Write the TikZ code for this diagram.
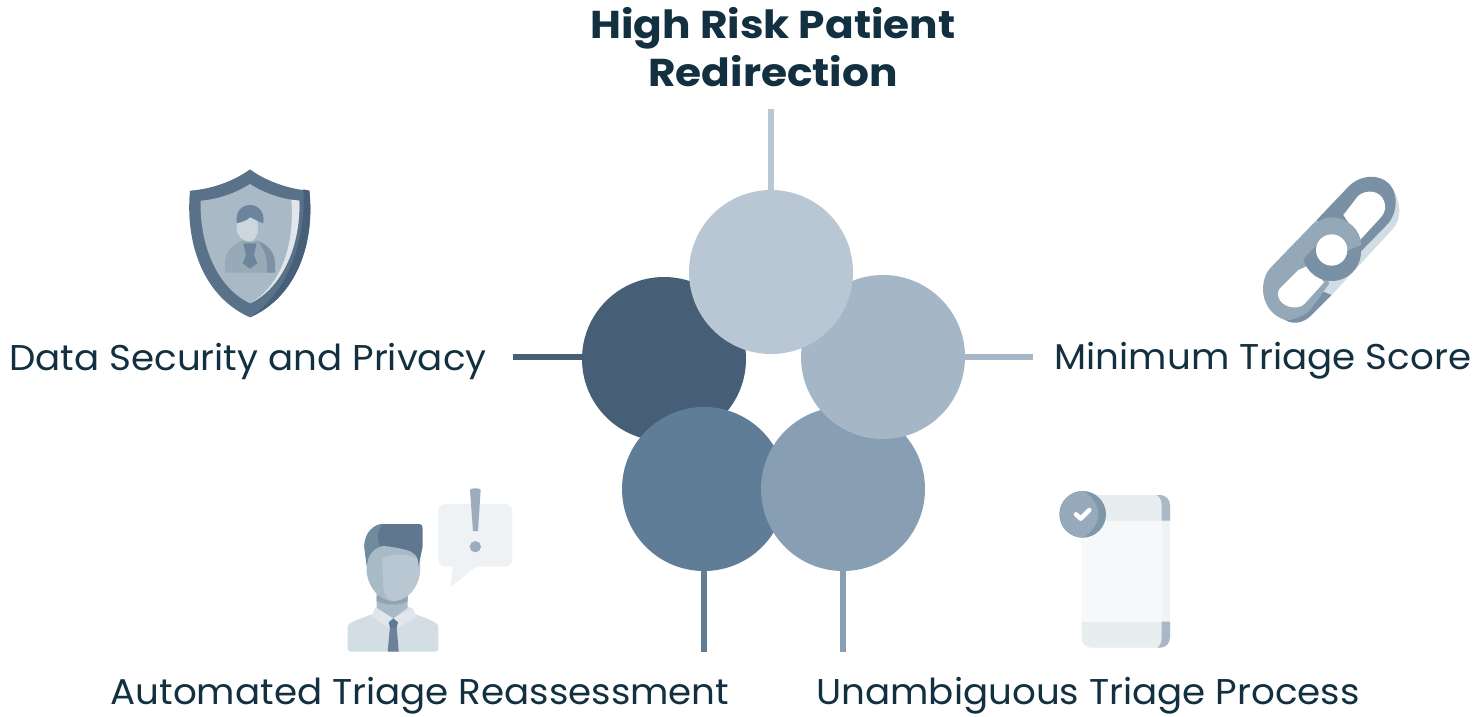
\documentclass[tikz,border=0pt]{standalone}
\usepackage{fontspec}
\setmainfont{Poppins}
\newfontfamily\labelfont[FakeStretch=1.04]{Poppins}
\newfontfamily\titlefont[FakeStretch=1.09]{Poppins}
\definecolor{ink}{HTML}{12303F}
\definecolor{cTop}{HTML}{B8C7D3}
\definecolor{cRight}{HTML}{A5B6C6}
\definecolor{cLowR}{HTML}{879EB3}
\definecolor{cLowL}{HTML}{5F7D97}
\definecolor{cLeft}{HTML}{465F76}
\definecolor{lkLight}{HTML}{D1DDE4}
\definecolor{lkDark}{HTML}{7A90A5}
\definecolor{lkMid}{HTML}{94A8B8}
\tikzset{
  petal/.style={circle,minimum size=164pt,inner sep=0pt,outer sep=0pt,fill=#1},
  spoke/.style={line width=6pt,draw=#1},
  label/.style={text=ink,font=\labelfont\fontsize{35.8}{40}\selectfont,inner sep=0pt},
  headline/.style={text=ink,font=\titlefont\fontsize{38.8}{48}\selectfont\bfseries,inner sep=0pt,align=center},
  icon/.style={shift={#1},scale=1/3,line cap=round,line join=round},
}
\begin{document}
\begin{tikzpicture}[x=1pt,y=-1pt]
\useasboundingbox (0,0) rectangle (1483,716);
\coordinate (tTop) at (771,109);
\coordinate (tRight) at (1033,357);
\coordinate (tLowR) at (843,652);
\coordinate (tLowL) at (704,652);
\coordinate (tLeft) at (513,357);
% petals, lowest first
\node[petal=cLeft] (pLeft) at (664,359) {};
\node[petal=cLowL] (pLowL) at (704,489) {};
\node[petal=cLowR] (pLowR) at (843,489) {};
\node[petal=cRight] (pRight) at (883,357) {};
\node[petal=cTop] (pTop) at (771,272) {};
\draw[spoke=cTop] (pTop.north) -- (tTop);
\draw[spoke=cRight] (pRight.east) -- (tRight);
\draw[spoke=cLowR] (pLowR.south) -- (tLowR);
\draw[spoke=cLowL] (pLowL.south) -- (tLowL);
\draw[spoke=cLeft] (pLeft.west |- tLeft) -- (tLeft);
% texts
\node[headline] (title) at (773,47) {High Risk Patient\\Redirection};
\node[label] (lSec) at (248,361) {Data Security and Privacy};
\node[label] (lMin) at (1263,361) {Minimum Triage Score};
\node[label] (lAut) at (420,696) {Automated Triage Reassessment};
\node[label] (lUna) at (1088,696) {Unambiguous Triage Process};
% shield
\begin{scope}[icon={(170,160)}]
\fill[color={rgb,255:red,90;green,114;blue,137}] (240,28) .. controls (190,65) and (120,88) .. (60,92) .. controls (45,250) and (100,410) .. (240,472) .. controls (380,410) and (435,250) .. (418,92) .. controls (360,88) and (290,65) .. (240,28) -- cycle;
\fill[color={rgb,255:red,69;green,96;blue,120}] (400,88) -- (418,92) .. controls (435,250) and (380,410) .. (240,472) .. controls (340,410) and (410,260) .. (400,88) -- cycle;
\fill[color={rgb,255:red,170;green,185;blue,198}] (240,72) .. controls (200,98) and (145,118) .. (92,122) .. controls (88,260) and (145,385) .. (240,430) .. controls (335,385) and (392,260) .. (388,122) .. controls (335,118) and (280,98) .. (240,72) -- cycle;
\fill[color={rgb,255:red,224;green,230;blue,235}] (364,119) -- (388,122) .. controls (392,260) and (335,385) .. (240,430) .. controls (330,380) and (375,260) .. (364,119) -- cycle;
\fill[color={rgb,255:red,152;green,169;blue,184}] (165,338) -- (165,310) .. controls (165,265) and (205,238) .. (240,238) .. controls (275,238) and (315,265) .. (315,310) -- (315,338) -- cycle;
\fill[color={rgb,255:red,125;green,146;blue,164}] (290,338) .. controls (295,300) and (285,270) .. (265,245) .. controls (295,255) and (315,280) .. (315,310) -- (315,338) -- cycle;
\fill[color={rgb,255:red,203;green,214;blue,223}] (200,170) -- (280,170) -- (280,205) .. controls (280,230) and (260,245) .. (240,245) .. controls (220,245) and (200,230) .. (200,205) -- cycle;
\fill[color={rgb,255:red,170;green,185;blue,198}] (262,185) -- (280,175) -- (280,205) .. controls (280,230) and (260,245) .. (245,245) .. controls (262,235) and (268,215) .. (262,185) -- cycle;
\fill[color={rgb,255:red,108;green,133;blue,156}] (200,190) .. controls (195,155) and (215,135) .. (240,135) .. controls (265,135) and (285,155) .. (280,190) .. controls (265,185) and (250,175) .. (240,172) .. controls (230,182) and (215,186) .. (200,190) -- cycle;
\fill[color={rgb,255:red,108;green,133;blue,156}] (220,250) -- (260,250) -- (252,285) -- (262,310) -- (240,326) -- (218,310) -- (228,285) -- cycle;
\end{scope}
% chain link
\begin{scope}[icon={(1250,165)}]
\fill[lkLight] (425,70) .. controls (455,110) and (455,160) .. (430,190) -- (245,390) -- (220,380) -- (222,345) -- (280,330) -- (330,250) -- cycle;
\fill[lkDark] (200,165) -- (300,60) .. controls (340,25) and (405,25) .. (430,75) .. controls (445,110) and (435,150) .. (415,175) -- (330,262) -- (245,260) -- cycle;
\fill[white] (325,92) .. controls (350,72) and (385,78) .. (398,100) .. controls (412,125) and (405,145) .. (390,160) -- (330,225) -- (280,150) -- cycle;
\fill[lkMid] (200,165) -- (60,310) .. controls (25,350) and (30,440) .. (105,465) .. controls (125,465) and (160,455) .. (180,435) -- (220,380) -- (238,355) -- (200,300) -- cycle;
\fill[lkDark] (105,465) .. controls (140,485) and (170,465) .. (185,450) -- (245,390) -- (220,380) -- (180,435) .. controls (160,455) and (125,465) .. (105,465) -- cycle;
\fill[white] (88,372) .. controls (75,395) and (95,425) .. (130,427) .. controls (145,428) and (155,425) .. (165,415) -- (222,352) -- (180,300) -- (145,315) -- cycle;
\fill[lkDark] (245,260) circle (88);
\fill[lkMid] (157,285) .. controls (150,215) and (195,157) .. (245,157) .. controls (290,157) and (335,195) .. (333,240) -- (290,258) -- (200,240) -- cycle;
\fill[white] (245,255) circle (47);
\end{scope}
% man and bubble
\begin{scope}[icon={(335,475)}]
\fill[color={rgb,255:red,239;green,242;blue,245},rounded corners=7pt] (310,87) rectangle (532,275);
\fill[color={rgb,255:red,239;green,242;blue,245}] (355,265) -- (345,337) -- (430,270) -- cycle;
\fill[color={rgb,255:red,155;green,173;blue,188}] (405,45) .. controls (405,38) and (437,38) .. (437,45) -- (429,168) -- (414,168) -- cycle;
\fill[color={rgb,255:red,155;green,173;blue,188}] (421,215) circle (17);
\fill[color={rgb,255:red,210;green,221;blue,228},rounded corners=3pt] (38,530) -- (38,465) .. controls (38,445) and (50,440) .. (120,415) -- (125,395) -- (225,395) -- (235,415) .. controls (300,440) and (310,445) .. (310,465) -- (310,530) -- cycle;
\fill[color={rgb,255:red,224;green,230;blue,235}] (120,398) -- (175,430) -- (232,398) -- (245,425) -- (190,458) -- (160,458) -- (110,425) -- cycle;
\fill[color={rgb,255:red,169;green,186;blue,199}] (125,350) -- (218,350) -- (218,398) -- (175,430) -- (125,398) -- cycle;
\fill[color={rgb,255:red,143;green,163;blue,180}] (125,362) -- (218,362) -- (218,378) .. controls (200,392) and (150,392) .. (125,378) -- cycle;
\fill[color={rgb,255:red,108;green,130;blue,153}] (165,455) -- (185,455) -- (191,530) -- (158,530) -- cycle;
\fill[color={rgb,255:red,93;green,122;blue,146}] (175,430) -- (189,442) -- (185,458) -- (165,458) -- (161,442) -- cycle;
\fill[color={rgb,255:red,169;green,186;blue,199}] (95,215) -- (255,215) -- (255,290) .. controls (250,340) and (215,378) .. (175,378) .. controls (135,378) and (100,340) .. (95,290) -- cycle;
\fill[color={rgb,255:red,185;green,199;blue,211}] (142,248) .. controls (180,235) and (220,235) .. (255,255) -- (255,290) .. controls (250,340) and (215,378) .. (175,378) .. controls (160,378) and (150,365) .. (145,340) -- cycle;
\fill[color={rgb,255:red,95;green,120;blue,143}] (88,215) .. controls (88,175) and (115,147) .. (145,147) -- (250,147) .. controls (260,147) and (263,152) .. (263,160) -- (263,215) -- (250,275) .. controls (252,245) and (240,232) .. (215,225) .. controls (180,215) and (150,213) .. (135,215) .. controls (110,222) and (100,240) .. (95,270) -- cycle;
\fill[color={rgb,255:red,112;green,138;blue,159}] (88,215) .. controls (88,175) and (115,147) .. (145,147) .. controls (125,160) and (125,190) .. (135,215) .. controls (110,222) and (100,240) .. (95,270) -- cycle;
\end{scope}
% phone
\begin{scope}[icon={(1045,480)}]
\fill[color={rgb,255:red,246;green,248;blue,250},rounded corners=10pt] (110,45) rectangle (375,503);
\fill[color={rgb,255:red,240;green,243;blue,246}] (350,122) rectangle (375,425);
\begin{scope}
\clip[rounded corners=10pt] (110,45) rectangle (375,503);
\fill[color={rgb,255:red,232;green,237;blue,240}] (100,35) rectangle (385,122);
\fill[color={rgb,255:red,232;green,237;blue,240}] (100,425) rectangle (385,510);
\fill[color={rgb,255:red,169;green,184;blue,197}] (350,122) -- (350,75) .. controls (350,55) and (340,45) .. (325,40) -- (385,35) -- (385,122) -- cycle;
\fill[color={rgb,255:red,169;green,184;blue,197}] (350,425) -- (350,475) .. controls (350,495) and (340,503) .. (325,510) -- (385,510) -- (385,425) -- cycle;
\end{scope}
\fill[color={rgb,255:red,127;green,151;blue,171}] (113,103) circle (70);
\fill[color={rgb,255:red,150;green,170;blue,188}] (45,103) .. controls (45,60) and (80,33) .. (113,33) .. controls (140,45) and (160,75) .. (160,103) .. controls (160,130) and (140,160) .. (113,173) .. controls (80,173) and (45,145) .. (45,103) -- cycle;
\draw[white,line width=4.5pt] (93,103) -- (107,116) -- (133,90);
\end{scope}
\end{tikzpicture}
\end{document}
